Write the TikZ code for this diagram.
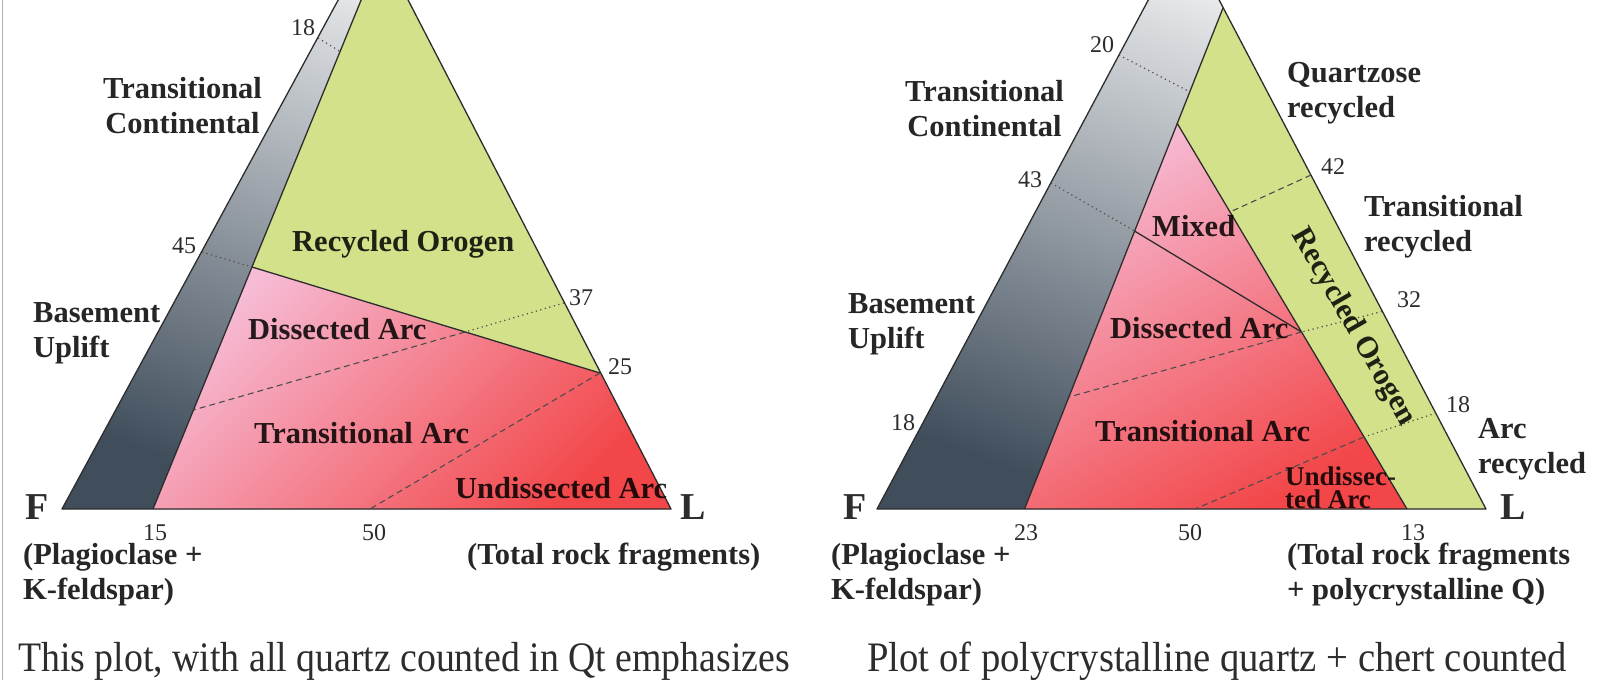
\documentclass[tikz,border=0pt]{standalone}
\usepackage{fontspec}
\setmainfont{Liberation Serif}
\newfontfamily\capfont{Liberation Serif}[FakeStretch=0.92]
\newfontfamily\capfontn{Liberation Serif}[FakeStretch=0.90]

\definecolor{orogen}{RGB}{211,225,139}
\definecolor{slate}{RGB}{64,78,92}
\definecolor{midslate}{RGB}{172,178,186}
\definecolor{arcpink}{RGB}{246,188,214}
\definecolor{arcred}{RGB}{242,70,72}
\definecolor{ink}{RGB}{45,45,45}

\begin{document}
\begin{tikzpicture}[x=1pt, y=-1pt, line join=round,
    edge/.style={draw=ink, line width=1.3pt},
    dashline/.style={draw=black!70, line width=1.1pt, dash pattern=on 6pt off 4pt},
    dotline/.style={draw=black!70, line width=1.2pt, dash pattern=on 1.2pt off 3.5pt},
    lbl/.style={font=\fontsize{30.5}{35}\selectfont\bfseries, text=black, text opacity=0.85,
                inner sep=0pt, anchor=north west, align=left},
    num/.style={font=\fontsize{24}{24}\selectfont, text=ink, inner sep=0pt},
    vtx/.style={font=\fontsize{38}{38}\selectfont\bfseries, text=ink, inner sep=0pt, anchor=north west},
    caption/.style={font=\capfont\fontsize{42}{42}\selectfont, text=ink, inner sep=0pt, anchor=base west}]
    \useasboundingbox (0,0) rectangle (1600,680);
    \clip (0,0) rectangle (1600,680);
    \draw[gray!60, line width=1.2pt] (2.5,0) -- (2.5,680);

    % QtFL plot
    \coordinate (F1)  at (62,509);
    \coordinate (L1)  at (671,509);
    \coordinate (Q1)  at (374,-66);
    \coordinate (S1)  at (153,509);
    \coordinate (T1)  at (382,-51);
    \coordinate (A18) at (318,38);
    \coordinate (B18) at (341,52);
    \coordinate (A45) at (202,252);
    \coordinate (B45) at (252,267);
    \coordinate (P37) at (564,303);
    \coordinate (P25) at (600,373);
    \coordinate (X1)  at (465,332);
    \coordinate (D1)  at (193.5,410);
    \coordinate (H50) at (370,509);

    \begin{scope}
        \clip (F1) -- (Q1) -- (L1) -- cycle;
        \shade[top color=white, middle color=midslate, bottom color=slate, shading angle=-20] (F1) -- (Q1) -- (L1) -- cycle;
        \fill[orogen] (B45) -- (T1) -- (P25) -- cycle;
        \shade[top color=arcpink, bottom color=arcred, shading angle=45] (S1) -- (B45) -- (P25) -- (L1) -- cycle;
    \end{scope}
    \draw[edge] (F1) -- (Q1) -- (L1) -- cycle;
    \draw[edge] (S1) -- (T1);
    \draw[edge] (B45) -- (P25);
    \draw[dotline] (A18) -- (B18);
    \draw[dotline] (A45) -- (B45);
    \draw[dotline] (P37) -- (X1);
    \draw[dashline] (X1) -- (D1);
    \draw[dashline] (P25) -- (H50);

    \node[lbl, align=center] (tc1) at (103,77)  {Transitional\\Continental};
    \node[lbl]               (bu1) at (33,302)  {Basement\\Uplift};
    \node[lbl]               (ro1) at (292,230) {Recycled Orogen};
    \node[lbl]               (da1) at (248,318) {Dissected Arc};
    \node[lbl]               (ta1) at (254,422) {Transitional Arc};
    \node[lbl]               (ua1) at (455,477) {Undissected Arc};
    \node[vtx]               (f1)  at (25,494)  {F};
    \node[vtx]               (l1)  at (680,494) {L};
    \node[lbl]               (fk1) at (23,543)  {(Plagioclase +\\K-feldspar)};
    \node[lbl]               (rf1) at (467,543) {(Total rock fragments)};
    \node[num] (n18a) at (303,28)  {18};
    \node[num] (n45)  at (184,246) {45};
    \node[num] (n37)  at (581,298) {37};
    \node[num] (n25)  at (620,367) {25};
    \node[num] (n15)  at (155,533) {15};
    \node[num] (n50a) at (374,533) {50};
    \node[caption, font=\capfontn\fontsize{42}{42}\selectfont] (cap1) at (18,671) {This plot, with all quartz counted in Qt emphasizes};

    % QmFLt plot
    \coordinate (F2)  at (877,509);
    \coordinate (L2)  at (1486,509);
    \coordinate (Q2)  at (1184,-67);
    \coordinate (S2)  at (1024.5,509);
    \coordinate (T2)  at (1223,8);
    \coordinate (P2)  at (1177,123);
    \coordinate (B13) at (1407,509);
    \coordinate (A20) at (1119,55);
    \coordinate (B20) at (1190,92);
    \coordinate (A43) at (1051,183);
    \coordinate (B43) at (1134.5,231);
    \coordinate (M2)  at (1301.5,332);
    \coordinate (P32) at (1382,311.5);
    \coordinate (D2)  at (1069,397);
    \coordinate (P42) at (1311,175);
    \coordinate (C42) at (1230,212);
    \coordinate (P18) at (1436,413);
    \coordinate (C18) at (1364,437);
    \coordinate (H50b) at (1195,509);

    \begin{scope}
        \clip (F2) -- (Q2) -- (L2) -- cycle;
        \shade[top color=white, middle color=midslate, bottom color=slate, shading angle=-20] (F2) -- (Q2) -- (L2) -- cycle;
        \fill[orogen] (T2) -- (L2) -- (B13) -- (P2) -- cycle;
        \shade[top color=arcpink, bottom color=arcred, shading angle=30] (S2) -- (P2) -- (B13) -- cycle;
    \end{scope}
    \draw[edge] (F2) -- (Q2) -- (L2) -- cycle;
    \draw[edge] (S2) -- (T2);
    \draw[edge] (P2) -- (B13);
    \draw[edge] (B43) -- (M2);
    \draw[dotline] (A20) -- (B20);
    \draw[dotline] (A43) -- (B43);
    \draw[dotline] (P32) -- (M2);
    \draw[dotline] (P18) -- (C18);
    \draw[dashline] (M2) -- (D2);
    \draw[dashline] (P42) -- (C42);
    \draw[dashline] (C18) -- (H50b);

    \node[lbl, align=center] (tc2) at (905,80)   {Transitional\\Continental};
    \node[lbl]               (qr2) at (1287,62)  {Quartzose\\recycled};
    \node[lbl]               (tr2) at (1364,195) {Transitional\\recycled};
    \node[lbl]               (bu2) at (848,293)  {Basement\\Uplift};
    \node[lbl]               (mx2) at (1152,215) {Mixed};
    \node[lbl]               (da2) at (1110,317) {Dissected Arc};
    \node[lbl]               (ta2) at (1095,420) {Transitional Arc};
    \node[lbl, font=\fontsize{27}{23}\selectfont\bfseries] (ua2) at (1285,467) {Undissec-\\ted Arc};
    \node[lbl, anchor=center, rotate=-60] (ro2) at (1353,327) {Recycled Orogen};
    \node[lbl]               (ar2) at (1478,418) {Arc\\recycled};
    \node[vtx]               (f2)  at (843,494)  {F};
    \node[vtx]               (l2)  at (1500,494) {L};
    \node[lbl]               (fk2) at (831,543)  {(Plagioclase +\\K-feldspar)};
    \node[lbl]               (rf2) at (1287,543) {(Total rock fragments\\+ polycrystalline Q)};
    \node[num] (n20)  at (1102,45)  {20};
    \node[num] (n43)  at (1030,180) {43};
    \node[num] (n42)  at (1333,167) {42};
    \node[num] (n32)  at (1409,300) {32};
    \node[num] (n18b) at (1458,405) {18};
    \node[num] (n18c) at (903,423)  {18};
    \node[num] (n23)  at (1026,533) {23};
    \node[num] (n50b) at (1190,533) {50};
    \node[num] (n13)  at (1413,533) {13};
    \node[caption] (cap2) at (867,671) {Plot of polycrystalline quartz + chert counted};
\end{tikzpicture}
\end{document}
